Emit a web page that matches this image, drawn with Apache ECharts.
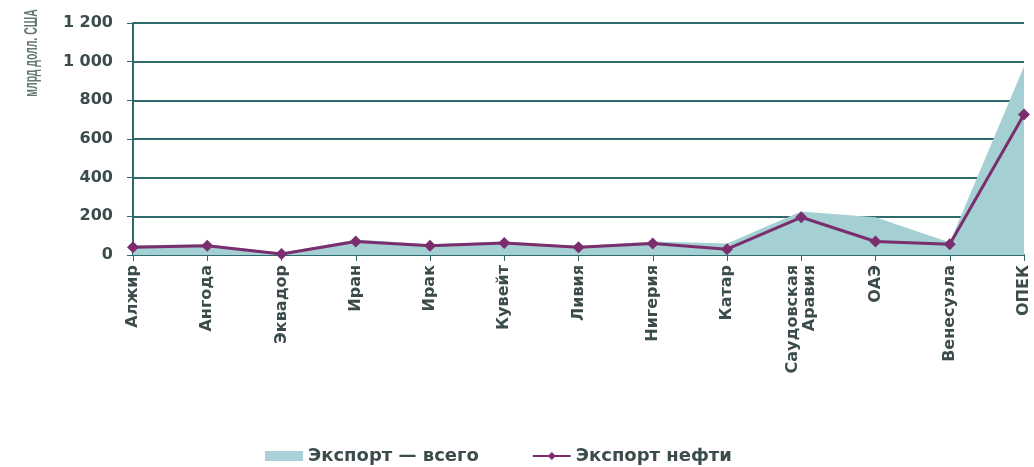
<!DOCTYPE html>
<html><head><meta charset="utf-8">
<script src="https://cdn.jsdelivr.net/npm/echarts@6/dist/echarts.min.js"></script>
<style>html,body{margin:0;padding:0;background:#fff}#c{width:1034px;height:467px}</style>
</head><body><div id="c"></div>
<script>
const categories = ['Алжир','Ангода','Эквадор','Иран','Ирак','Кувейт','Ливия','Нигерия','Катар','Саудовская\nАравия','ОАЭ','Венесуэла','ОПЕК'];
const exportTotal = [50, 55, 12, 80, 55, 70, 45, 70, 60, 225, 195, 65, 975];
const exportOil = [40, 48, 5, 70, 48, 62, 40, 60, 30, 195, 70, 55, 727];
const seriesNames = ['Экспорт — всего', 'Экспорт нефти'];
const yTicks = {min: 0, max: 1200, interval: 200};

const chart = echarts.init(document.getElementById('c'));
const txt = '#3c4b4c';
const gridCol = '#2f6a6c';
const font = 'DejaVu Sans';
chart.setOption({
  animation: false,
  grid: {left: 133, right: 10, top: 23, bottom: 212},
  legend: {
    top: 442, left: 260, itemGap: 53, itemWidth: 38, itemHeight: 10,
    textStyle: {fontFamily: font, fontWeight: 'bold', fontSize: 18, color: txt},
    data: [
      {name: seriesNames[0], icon: 'rect', itemStyle: {color: '#a9d3d8'}},
      {name: seriesNames[1]}
    ]
  },
  graphic: [{
    type: 'text', x: 32, y: 53, rotation: Math.PI / 2, scaleX: 0.55,
    style: {text: 'млрд долл. США', fill: '#687878', font: 'bold 19px "Liberation Sans"', align: 'center', verticalAlign: 'middle'}
  }],
  xAxis: {
    type: 'category', data: categories, boundaryGap: false,
    axisLine: {lineStyle: {color: gridCol, width: 2}},
    axisTick: {show: true, alignWithLabel: true, length: 6, lineStyle: {color: gridCol}},
    axisLabel: {rotate: 90, interval: 0, color: txt, fontFamily: font, fontWeight: 'bold', fontSize: 16, margin: 10, lineHeight: 17}
  },
  yAxis: {
    type: 'value', min: yTicks.min, max: yTicks.max, interval: yTicks.interval,
    axisLine: {show: true, lineStyle: {color: gridCol, width: 2}},
    axisTick: {show: true, length: 6, lineStyle: {color: gridCol}},
    splitLine: {lineStyle: {color: gridCol, width: 2}},
    axisLabel: {color: txt, fontFamily: font, fontWeight: 'bold', fontSize: 16, margin: 20,
      formatter: v => String(v).replace(/\B(?=(\d{3})+(?!\d))/g, ' ')}
  },
  series: [
    {name: seriesNames[0], type: 'line', data: exportTotal, symbol: 'none',
     lineStyle: {width: 0, color: '#a4d0d4'}, itemStyle: {color: '#a4d0d4'},
     areaStyle: {color: '#a4d0d4', opacity: 1}, z: 1},
    {name: seriesNames[1], type: 'line', data: exportOil, symbol: 'diamond', symbolSize: 12,
     lineStyle: {width: 3, color: '#7a2e6e'}, itemStyle: {color: '#7a2e6e'}, z: 3}
  ]
});
</script></body></html>
